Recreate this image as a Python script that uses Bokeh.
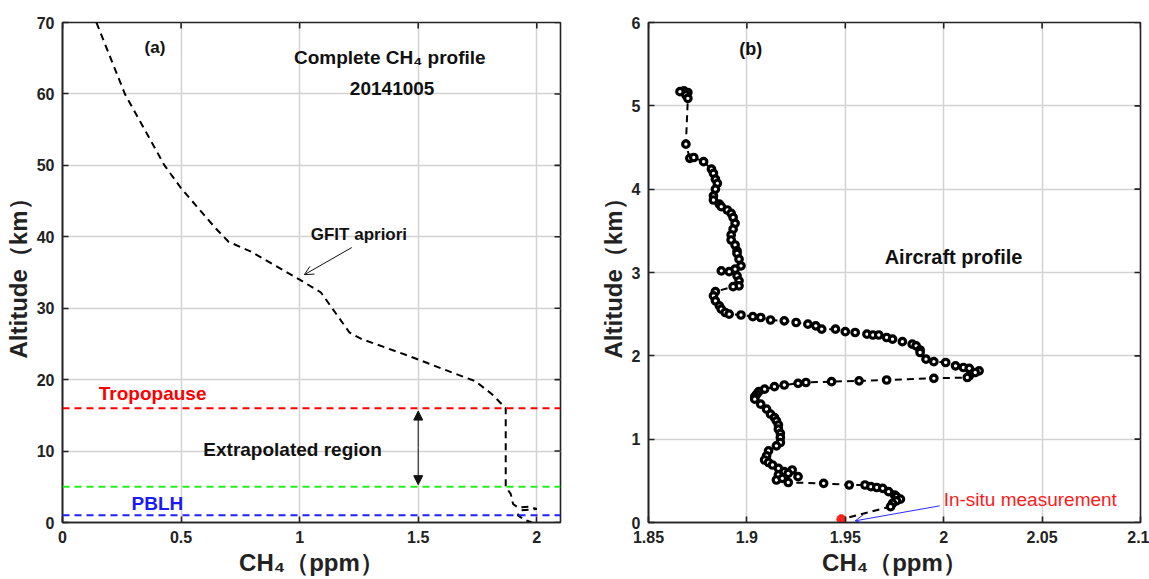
from bokeh.plotting import figure
from bokeh.layouts import row
from bokeh.models import (Label, Arrow, OpenHead, NormalHead, FixedTicker, Range1d, Span)
from bokeh.embed import file_html
from bokeh.resources import INLINE

# ---------------- data: panel (a) ----------------
apriori_ch4 = [0.143, 0.263, 0.43, 0.50, 0.64, 0.70, 0.79, 1.0, 1.09, 1.15, 1.21, 1.26,
               1.47, 1.65, 1.74, 1.81, 1.869, 1.869, 1.89, 1.90, 1.92, 1.97, 2.00,
               1.93, 1.92, 1.95, 1.98]
apriori_alt = [70, 60, 50, 46.8, 41.4, 39.3, 38, 34, 32.2, 29.4, 26.6, 25.7,
               23.2, 20.9, 19.8, 18, 16, 5, 4.0, 2.6, 2.1, 2.2, 1.9,
               1.7, 1.0, 0.35, 0.0]
tropopause_alt = 16
upper_bound_alt = 5
pblh_alt = 1

a_xticks = [0, 0.5, 1, 1.5, 2]
a_xlabels = ["0", "0.5", "1", "1.5", "2"]
a_yticks = [0, 10, 20, 30, 40, 50, 60, 70]

# ---------------- data: panel (b) ----------------
aircraft_ch4 = [1.868, 1.866, 1.870, 1.869, 1.870, 1.869, 1.871, 1.873, 1.878, 1.882, 1.883,
                1.884, 1.885, 1.884, 1.883, 1.883, 1.886, 1.887, 1.890, 1.892, 1.893, 1.894,
                1.893, 1.892, 1.892, 1.894, 1.895, 1.895, 1.896, 1.897, 1.894, 1.887, 1.891,
                1.895, 1.896, 1.896, 1.893, 1.884, 1.883, 1.884, 1.886, 1.887, 1.889, 1.891,
                1.897, 1.903, 1.907, 1.912, 1.919, 1.925, 1.931, 1.935, 1.938, 1.945, 1.950,
                1.955, 1.961, 1.964, 1.967, 1.971, 1.974, 1.979, 1.984, 1.986, 1.988, 1.988,
                1.991, 1.995, 2.001, 2.006, 2.010, 2.013, 2.018, 2.016, 2.013, 2.012, 1.995,
                1.971, 1.957, 1.943, 1.930, 1.926, 1.919, 1.914, 1.909, 1.906, 1.905, 1.904,
                1.904, 1.907, 1.910, 1.912, 1.914, 1.915, 1.916, 1.916, 1.917, 1.917, 1.917,
                1.915, 1.911, 1.910, 1.909, 1.911, 1.913, 1.916, 1.919, 1.923, 1.921, 1.916,
                1.915, 1.918, 1.926, 1.921, 1.939, 1.952, 1.960, 1.963, 1.966, 1.969, 1.972,
                1.975, 1.976, 1.978, 1.976, 1.974, 1.973]
aircraft_alt = [5.18, 5.17, 5.16, 5.13, 5.09, 4.54, 4.37, 4.38, 4.33, 4.24, 4.19,
                4.12, 4.07, 4.00, 3.92, 3.87, 3.82, 3.79, 3.75, 3.71, 3.66, 3.59,
                3.52, 3.45, 3.39, 3.33, 3.26, 3.23, 3.16, 3.08, 3.04, 3.02, 3.01,
                2.96, 2.90, 2.84, 2.83, 2.77, 2.72, 2.66, 2.60, 2.56, 2.52, 2.50,
                2.49, 2.47, 2.46, 2.43, 2.42, 2.40, 2.38, 2.36, 2.32, 2.32, 2.29,
                2.28, 2.26, 2.25, 2.25, 2.22, 2.20, 2.17, 2.14, 2.12, 2.07, 2.04,
                1.96, 1.93, 1.92, 1.88, 1.86, 1.85, 1.82, 1.80, 1.76, 1.74, 1.73,
                1.71, 1.70, 1.69, 1.68, 1.67, 1.65, 1.63, 1.60, 1.57, 1.54, 1.51,
                1.48, 1.42, 1.36, 1.30, 1.26, 1.22, 1.17, 1.12, 1.07, 1.02, 0.96,
                0.92, 0.86, 0.80, 0.75, 0.72, 0.69, 0.65, 0.61, 0.63, 0.59, 0.57,
                0.51, 0.53, 0.55, 0.48, 0.47, 0.45, 0.45, 0.43, 0.42, 0.41, 0.37,
                0.33, 0.31, 0.28, 0.26, 0.23, 0.19]
insitu_ch4 = [1.948]
insitu_alt = [0.04]

b_xticks = [1.85, 1.9, 1.95, 2.0, 2.05, 2.1]
b_xlabels = ["1.85", "1.9", "1.95", "2", "2.05", "2.1"]
b_yticks = [0, 1, 2, 3, 4, 5, 6]

FONT = "Liberation Sans"
GRID = "#d2d2d2"
INK = "#222222"
TICK_PX = 6


def style(p, xticks, xlabels, yticks, xr, yr, fw, fh):
    p.xaxis.ticker = FixedTicker(ticks=xticks)
    p.xaxis.major_label_overrides = {t: l for t, l in zip(xticks, xlabels)}
    p.yaxis.ticker = FixedTicker(ticks=yticks)
    p.yaxis.major_label_overrides = {t: str(t) for t in yticks}
    for ax in (p.xaxis[0], p.yaxis[0]):
        ax.major_tick_in = TICK_PX
        ax.major_tick_out = 0
        ax.minor_tick_in = 0
        ax.minor_tick_out = 0
        ax.axis_line_width = 1.6
        ax.axis_line_color = INK
        ax.major_tick_line_width = 1.6
        ax.major_tick_line_color = INK
        ax.major_label_text_font = FONT
        ax.major_label_text_font_style = "bold"
        ax.major_label_text_font_size = "16px"
        ax.major_label_text_color = INK
        ax.axis_label_text_font = FONT
        ax.axis_label_text_font_style = "bold"
        ax.axis_label_text_font_size = "24px"
        ax.axis_label_text_color = INK
    p.xaxis.major_label_standoff = 8
    p.yaxis.major_label_standoff = 8
    p.xaxis.axis_label_standoff = 3
    p.yaxis.axis_label_standoff = 2
    p.xaxis.axis_label = "CH\u2084\uff08ppm\uff09"
    p.yaxis.axis_label = "Altitude\uff08km\uff09"
    # inward box ticks on the top and right edges, at the same tick values
    dy = (yr[1] - yr[0]) * TICK_PX / fh
    dx = (xr[1] - xr[0]) * TICK_PX / fw
    p.segment(x0=xticks, y0=[yr[1]] * len(xticks), x1=xticks, y1=[yr[1] - dy] * len(xticks),
              line_color=INK, line_width=1.6)
    p.segment(x0=[xr[1]] * len(yticks), y0=yticks, x1=[xr[1] - dx] * len(yticks), y1=yticks,
              line_color=INK, line_width=1.6)
    p.xgrid.grid_line_color = GRID
    p.ygrid.grid_line_color = GRID
    p.xgrid.grid_line_width = 1.5
    p.ygrid.grid_line_width = 1.5
    p.outline_line_color = INK
    p.outline_line_width = 1.6
    p.background_fill_color = "white"
    p.border_fill_color = "white"


def lab(p, x, y, text, size, color="#111111", bold=True, align="center"):
    p.add_layout(Label(x=x, y=y, text=text, text_font=FONT, text_font_size=size,
                       text_font_style="bold" if bold else "normal", text_color=color,
                       text_align=align, text_baseline="middle"))


# ---------------- panel (a) ----------------
A_X = (0, 2.1)
A_Y = (0, 70)
pa = figure(width=596, height=579, x_range=Range1d(*A_X), y_range=Range1d(*A_Y),
            output_backend="svg", toolbar_location=None,
            min_border_left=62, min_border_right=36, min_border_top=18, min_border_bottom=52)
style(pa, a_xticks, a_xlabels, a_yticks, A_X, A_Y, 498, 509)

pa.add_layout(Span(location=tropopause_alt, dimension="width", line_color="#ff0000",
                   line_width=2, line_dash="7 5"))
pa.add_layout(Span(location=upper_bound_alt, dimension="width", line_color="#22ee22",
                   line_width=2, line_dash="7 5"))
pa.add_layout(Span(location=pblh_alt, dimension="width", line_color="#2020ff",
                   line_width=2, line_dash="7 5"))
pa.line(apriori_ch4, apriori_alt, line_color="black", line_width=2, line_dash="7 5")

lab(pa, 0.39, 66.5, "(a)", "17px")
lab(pa, 1.38, 65.1, "Complete CH\u2084 profile", "19px")
lab(pa, 1.39, 60.8, "20141005", "19px")
lab(pa, 1.25, 40.3, "GFIT apriori", "17px")
lab(pa, 0.38, 18.1, "Tropopause", "19px", color="#ff0000")
lab(pa, 0.97, 10.2, "Extrapolated region", "19px")
lab(pa, 0.40, 2.7, "PBLH", "19px", color="#1a1aff")

pa.add_layout(Arrow(x_start=1.22, y_start=38.5, x_end=1.02, y_end=34.7,
                    line_color="#111111", line_width=1,
                    end=OpenHead(size=9, line_color="#111111", line_width=1)))
pa.add_layout(Arrow(x_start=1.5, y_start=10.5, x_end=1.5, y_end=15.6,
                    line_color="#111111", line_width=1,
                    end=NormalHead(size=9, fill_color="#111111", line_color="#111111")))
pa.add_layout(Arrow(x_start=1.5, y_start=10.5, x_end=1.5, y_end=5.3,
                    line_color="#111111", line_width=1,
                    end=NormalHead(size=9, fill_color="#111111", line_color="#111111")))

# ---------------- panel (b) ----------------
B_X = (1.85, 2.1)
B_Y = (0, 6)
pb = figure(width=553, height=579, x_range=Range1d(*B_X), y_range=Range1d(*B_Y),
            output_backend="svg", toolbar_location=None,
            min_border_left=49, min_border_right=9, min_border_top=22, min_border_bottom=57)
style(pb, b_xticks, b_xlabels, b_yticks, B_X, B_Y, 495, 500)

pb.line(aircraft_ch4 + insitu_ch4, aircraft_alt + insitu_alt, line_color="black",
        line_width=2, line_dash="7 5")
pb.scatter(aircraft_ch4, aircraft_alt, size=6.5, marker="circle", line_color="black",
           line_width=3.2, fill_color="white")
pb.scatter(insitu_ch4, insitu_alt, size=9, marker="circle", line_color="#ff2020",
           fill_color="#ff2020")

lab(pb, 1.902, 5.68, "(b)", "18px")
lab(pb, 2.005, 3.19, "Aircraft profile", "20px")
lab(pb, 2.0, 0.28, "In-situ measurement", "19px", color="#ff1a1a", bold=False, align="left")
pb.add_layout(Arrow(x_start=1.998, y_start=0.2, x_end=1.955, y_end=0.02,
                    line_color="#2a2aff", line_width=1,
                    end=OpenHead(size=9, line_color="#2a2aff", line_width=1)))

layout = row(pa, pb)
open("out.html", "w").write(file_html(layout, INLINE))
